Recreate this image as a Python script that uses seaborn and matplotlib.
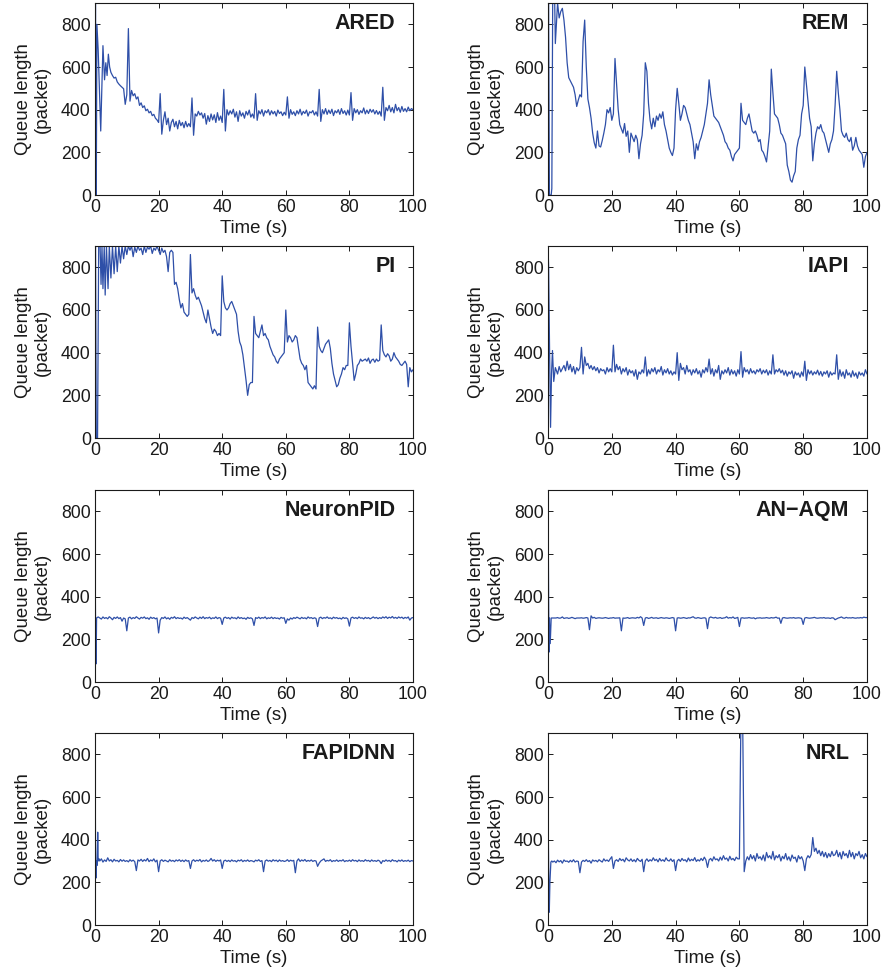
import numpy as np
import matplotlib
matplotlib.use("Agg")
import matplotlib.pyplot as plt
import seaborn as sns

# ---------------- data ----------------
titles = ["ARED", "REM", "PI", "IAPI", "NeuronPID", "AN\u2212AQM", "FAPIDNN", "NRL"]
x_ticks = [0, 20, 40, 60, 80, 100]
y_ticks = [0, 200, 400, 600, 800]

# ARED
ared_t0 = [0, 0.15, 0.3, 0.4, 0.6, 1.0, 1.8, 2.5, 3.0, 3.4, 3.8, 4.2, 4.6]
ared_q0 = [0, 1000, 0, 0, 800, 680, 300, 700, 540, 620, 560, 660, 600]
ared_start = 5.0
ared_q = [
    575, 560, 548, 552, 530, 520, 512, 505, 498, 425,
    470, 780, 440, 490, 465, 475, 450, 460, 420, 432, 410, 418, 395, 402, 385, 392, 372, 378, 360, 352,
    340, 475, 285, 350, 390, 330, 360, 300, 340, 355, 320, 345, 310, 350, 325, 340, 315, 345, 320, 335,
    320, 455, 280, 380, 370, 392, 375, 385, 360, 382, 332, 372, 345, 380, 352, 376, 340, 386, 350, 370,
    340, 495, 300, 400, 375, 395, 380, 402, 365, 390, 345, 395, 370, 385, 360, 392, 375, 398, 365, 380,
    360, 475, 350, 395, 380, 400, 370, 395, 385, 400, 375, 395, 380, 392, 370, 398, 382, 390, 372, 388,
    375, 460, 360, 400, 378, 390, 372, 395, 380, 402, 375, 392, 382, 398, 370, 390, 385, 396, 375, 390,
    370, 495, 345, 400, 380, 405, 378, 398, 382, 402, 372, 395, 385, 400, 378, 405, 382, 395, 375, 398,
    375, 480, 350, 405, 385, 400, 378, 395, 385, 408, 380, 398, 382, 402, 388, 400, 380, 396, 378, 392,
    370, 505, 350, 410, 395, 420, 390, 410, 385, 425, 395, 410, 388, 415, 392, 405, 390, 412, 395, 405,
    400,
]

# REM
rem_t0 = [0, 0.15, 0.45, 1.0, 1.2, 1.5, 2.0, 2.3, 2.7, 3.0, 3.5, 4.0, 4.5]
rem_q0 = [0, 1000, 0, 0, 30, 1000, 1000, 710, 820, 900, 830, 860, 875]
rem_start = 5.0
rem_q = [
    820, 740, 620, 550, 535, 520, 505, 470, 415, 445,
    470, 460, 720, 820, 600, 450, 410, 360, 290, 245, 220, 300, 230, 225, 255, 290, 330, 400, 385, 410,
    350, 380, 640, 520, 400, 330, 310, 290, 335, 275, 300, 200, 290, 270, 250, 280, 260, 170, 240, 280,
    380, 620, 580, 430, 350, 310, 360, 320, 370, 350, 380, 360, 390, 330, 300, 260, 220, 200, 185, 220,
    400, 500, 430, 350, 380, 420, 410, 380, 350, 330, 290, 250, 170, 240, 210, 250, 270, 300, 330, 380,
    430, 540, 470, 420, 370, 360, 350, 340, 320, 300, 280, 250, 240, 220, 210, 180, 160, 190, 200, 210,
    220, 430, 350, 340, 330, 360, 380, 340, 300, 290, 300, 280, 250, 260, 210, 200, 180, 155, 230, 300,
    590, 480, 380, 370, 360, 330, 290, 280, 260, 240, 140, 110, 70, 60, 90, 110, 220, 260, 280, 380,
    420, 600, 520, 440, 360, 320, 160, 240, 290, 320, 310, 330, 300, 290, 260, 230, 200, 240, 260, 300,
    420, 580, 480, 400, 300, 280, 270, 290, 260, 250, 270, 210, 230, 270, 230, 210, 200, 190, 130, 180,
    200,
]

# PI
pi_t0 = [0, 0.15, 0.4, 0.8, 1.2, 1.6, 1.9, 2.2, 2.5, 2.9, 3.2, 3.6, 4.1, 4.5]
pi_q0 = [0, 1000, 0, 0, 1000, 900, 720, 900, 700, 900, 670, 900, 700, 900]
pi_start = 5.0
pi_q = [
    750, 900, 770, 900, 780, 900, 820, 900, 840, 900,
    860, 900, 880, 900, 850, 895, 870, 900, 880, 890, 860, 900, 870, 895, 885, 900, 865, 890, 880, 900,
    880, 860, 890, 870, 880, 850, 780, 870, 880, 870, 720, 730, 700, 650, 610, 630, 590, 580, 570, 580,
    860, 680, 700, 670, 650, 660, 640, 620, 590, 560, 540, 600, 560, 520, 490, 510, 500, 480, 490, 480,
    760, 640, 610, 600, 610, 630, 640, 620, 600, 580, 500, 450, 430, 390, 330, 270, 200, 250, 260, 260,
    570, 490, 480, 470, 500, 530, 480, 490, 470, 460, 430, 410, 390, 380, 360, 350, 370, 380, 390, 400,
    600, 450, 480, 470, 450, 460, 480, 470, 420, 370, 350, 340, 320, 340, 260, 250, 240, 230, 245, 230,
    520, 430, 410, 400, 420, 440, 450, 460, 420, 350, 300, 270, 240, 250, 280, 300, 330, 320, 340, 340,
    540, 430, 350, 270, 300, 340, 350, 370, 360, 365, 370, 360, 375, 350, 365, 370, 355, 370, 360, 365,
    530, 410, 390, 380, 395, 385, 360, 370, 400, 380, 370, 360, 345, 340, 350, 360, 345, 240, 330, 310,
    320,
]

# IAPI
iapi_t0 = [0, 0.2, 0.5, 0.8, 1.1, 1.4, 1.8, 2.3]
iapi_q0 = [900, 800, 400, 50, 300, 410, 265, 330]
iapi_start = 3.0
iapi_q = [
    300, 335, 310, 325, 340, 315, 360, 320, 345, 310, 335, 300, 330, 315,
    330, 425, 300, 380, 340, 350, 325, 340, 320, 335, 315, 330, 305, 325, 315, 320, 300, 330, 310, 325,
    310, 435, 310, 345, 320, 335, 300, 325, 310, 330, 295, 320, 305, 315, 290, 320, 275, 310, 300, 320,
    305, 380, 290, 320, 300, 325, 310, 330, 300, 320, 310, 335, 295, 320, 305, 325, 300, 315, 295, 310,
    300, 400, 270, 350, 320, 330, 300, 340, 310, 320, 295, 320, 305, 325, 300, 315, 285, 320, 305, 330,
    310, 370, 300, 325, 290, 320, 305, 340, 275, 315, 300, 320, 305, 330, 295, 320, 300, 315, 290, 320,
    300, 405, 285, 330, 310, 320, 300, 325, 305, 315, 300, 320, 310, 325, 300, 318, 305, 320, 295, 315,
    300, 390, 300, 320, 310, 325, 305, 318, 295, 315, 290, 310, 300, 315, 280, 310, 295, 305, 285, 310,
    290, 360, 270, 320, 300, 315, 295, 310, 300, 318, 295, 312, 290, 310, 300, 315, 285, 310, 295, 305,
    300, 390, 275, 320, 290, 310, 280, 320, 295, 305, 285, 315, 290, 305, 280, 310, 295, 305, 290, 320,
    300,
]

# NeuronPID
npid_t0 = [0, 0.1, 0.2, 0.35, 0.5, 1.0]
npid_q0 = [0, 430, 200, 85, 300, 305]
npid_start = 1.5
npid_q = [
    300, 295, 305, 298, 302, 296, 306, 300, 292, 303, 298, 305, 297, 302, 285, 300, 296,
    240, 300, 304, 296, 302, 298, 306, 300, 295, 303, 299, 305, 297, 301, 294, 304, 298, 302, 296, 300,
    230, 290, 302, 298, 305, 296, 301, 294, 303, 299, 306, 297, 302, 298, 300, 295, 304, 298, 302, 296,
    290, 302, 298, 305, 300, 296, 304, 298, 306, 297, 302, 299, 304, 296, 301, 298, 305, 297, 302, 299,
    270, 300, 304, 298, 302, 295, 304, 299, 301, 296, 305, 298, 302, 297, 300, 294, 303, 298, 301, 296,
    265, 302, 298, 304, 297, 302, 299, 305, 296, 301, 298, 304, 297, 302, 298, 300, 295, 303, 299, 301,
    275, 296, 290, 300, 295, 302, 298, 304, 300, 296, 303, 298, 301, 296, 305, 299, 302, 297, 301, 298,
    260, 300, 304, 297, 302, 299, 305, 298, 301, 296, 304, 299, 302, 297, 300, 295, 303, 298, 301, 296,
    262, 300, 304, 298, 302, 297, 305, 299, 301, 296, 303, 298, 302, 296, 300, 305, 299, 303, 297, 302,
    298, 305, 300, 306, 298, 304, 300, 307, 299, 303, 298, 305, 300, 304, 297, 303, 299, 305, 290, 300,
    302,
]

# AN-AQM
anaqm_t0 = [0, 0.3, 0.45, 0.7, 1.0, 1.5]
anaqm_q0 = [880, 140, 300, 180, 300, 300]
anaqm_start = 2.0
anaqm_q = [
    300, 300, 302, 299, 300, 305, 298, 300, 301, 298, 300, 303, 300, 297, 300, 300,
    300, 301, 299, 300, 302, 300, 245, 310, 300, 303, 298, 300, 301, 300, 299, 300, 302, 300, 298, 300,
    300, 302, 299, 300, 300, 301, 240, 300, 299, 300, 302, 298, 300, 301, 300, 299, 303, 300, 306, 300,
    265, 300, 302, 298, 300, 303, 299, 300, 301, 298, 300, 302, 300, 299, 301, 300, 298, 300, 302, 300,
    240, 300, 301, 299, 300, 302, 300, 298, 301, 300, 303, 306, 300, 299, 302, 300, 298, 300, 301, 299,
    250, 300, 305, 302, 300, 303, 299, 300, 302, 298, 300, 301, 306, 299, 302, 300, 305, 298, 300, 303,
    260, 300, 301, 299, 300, 300, 302, 300, 299, 301, 296, 300, 300, 301, 299, 300, 300, 302, 300, 299,
    302, 300, 301, 304, 299, 300, 275, 300, 302, 300, 299, 300, 301, 300, 302, 299, 300, 301, 300, 298,
    270, 300, 302, 300, 299, 300, 301, 303, 300, 299, 300, 301, 300, 302, 299, 300, 300, 298, 301, 300,
    292, 296, 300, 302, 305, 300, 299, 303, 300, 301, 300, 302, 300, 299, 301, 300, 302, 300, 304, 302,
    302,
]

# FAPIDNN
fap_t0 = [0, 0.15, 0.3, 0.5, 0.7, 0.85, 1.0, 1.3]
fap_q0 = [880, 400, 220, 300, 280, 435, 300, 310]
fap_start = 1.5
fap_q = [
    300, 310, 295, 305, 298, 315, 300, 306, 296, 308, 300, 303, 296, 307, 299, 305, 298,
    302, 296, 306, 299, 304, 297, 255, 305, 300, 308, 298, 306, 300, 312, 297, 305, 300, 310, 296, 304,
    250, 300, 306, 298, 304, 300, 296, 306, 299, 303, 297, 305, 300, 306, 298, 304, 297, 305, 299, 302,
    265, 300, 306, 298, 304, 300, 307, 296, 303, 299, 305, 298, 302, 312, 300, 306, 298, 304, 300, 305,
    265, 300, 304, 298, 303, 297, 305, 299, 302, 296, 304, 300, 306, 297, 303, 299, 305, 298, 302, 300,
    296, 304, 300, 306, 298, 302, 250, 300, 305, 299, 303, 297, 306, 300, 304, 297, 305, 299, 302, 298,
    300, 306, 298, 304, 300, 303, 245, 300, 310, 298, 305, 300, 307, 298, 303, 299, 305, 298, 302, 300,
    275, 290, 300, 305, 310, 298, 303, 300, 306, 297, 302, 299, 305, 298, 303, 300, 306, 297, 302, 299,
    304, 298, 306, 300, 303, 297, 305, 299, 302, 298, 306, 300, 303, 297, 305, 299, 302, 298, 304, 300,
    288, 302, 298, 305, 299, 303, 297, 306, 300, 302, 296, 304, 299, 305, 298, 302, 299, 304, 297, 302,
    300,
]

# NRL
nrl_t0 = [0, 0.1, 0.25, 0.4, 0.6, 0.9, 1.2]
nrl_q0 = [0, 420, 200, 60, 200, 295, 300]
nrl_start = 1.5
nrl_q = [
    295, 300, 292, 304, 296, 302, 290, 305, 298, 300, 294, 303, 296, 306, 295, 300, 298,
    245, 295, 303, 298, 306, 297, 302, 290, 305, 299, 303, 296, 306, 300, 295, 310, 300, 305, 298, 310,
    320, 265, 300, 306, 298, 312, 302, 308, 296, 315, 305, 300, 310, 298, 306, 296, 312, 303, 298, 308,
    250, 300, 310, 298, 306, 300, 315, 302, 308, 296, 312, 300, 306, 298, 315, 303, 300, 310, 298, 306,
    255, 300, 308, 298, 312, 302, 306, 296, 314, 300, 308, 302, 316, 298, 306, 300, 312, 302, 318, 305,
    270, 305, 312, 300, 320, 306, 310, 300, 318, 304, 325, 308, 314, 300, 322, 306, 312, 302, 318, 310,
    310, 1000, 1000, 250, 300, 320, 305, 330, 310, 325, 300, 335, 312, 320, 305, 328, 300, 340, 315, 325,
    310, 345, 305, 325, 315, 330, 300, 322, 310, 335, 305, 320, 300, 328, 312, 318, 295, 325, 310, 320,
    300, 255, 310, 325, 315, 330, 410, 345, 360, 335, 350, 325, 345, 320, 340, 315, 335, 320, 345, 325,
    330, 350, 320, 340, 310, 345, 325, 335, 315, 350, 320, 340, 310, 335, 325, 345, 315, 330, 310, 335,
    320,
]

series = [
    (ared_t0, ared_q0, ared_start, ared_q),
    (rem_t0, rem_q0, rem_start, rem_q),
    (pi_t0, pi_q0, pi_start, pi_q),
    (iapi_t0, iapi_q0, iapi_start, iapi_q),
    (npid_t0, npid_q0, npid_start, npid_q),
    (anaqm_t0, anaqm_q0, anaqm_start, anaqm_q),
    (fap_t0, fap_q0, fap_start, fap_q),
    (nrl_t0, nrl_q0, nrl_start, nrl_q),
]

# ---------------- style ----------------
sns.set_theme(style="white")
plt.rcParams.update({
    "font.family": ["Liberation Sans", "DejaVu Sans"],
    "xtick.direction": "in",
    "ytick.direction": "in",
    "xtick.bottom": True,
    "ytick.left": True,
    "xtick.top": True,
    "ytick.right": True,
    "xtick.major.size": 3.5,
    "ytick.major.size": 3.5,
    "xtick.major.width": 0.7,
    "ytick.major.width": 0.7,
    "axes.edgecolor": "#1a1a1a",
    "axes.linewidth": 0.8,
    "xtick.color": "#1a1a1a",
    "ytick.color": "#1a1a1a",
    "text.color": "#1a1a1a",
    "axes.labelcolor": "#1a1a1a",
})

W, H = 887, 980
fig = plt.figure(figsize=(W / 100, H / 100), dpi=100)

col_left = [95, 548]
col_width = [318, 319]
row_top = [3, 246, 490, 733]
ax_h = 192
line_color = "#2e4fa8"

for i, (t0, q0, start, qb) in enumerate(series):
    r, c = divmod(i, 2)
    left = col_left[c] / W
    bottom = 1 - (row_top[r] + ax_h) / H
    ax = fig.add_axes([left, bottom, col_width[c] / W, ax_h / H])
    tb = start + 0.5 * np.arange(len(qb))
    t = np.concatenate([np.asarray(t0, float), tb])
    q = np.concatenate([np.asarray(q0, float), np.asarray(qb, float)])
    sns.lineplot(x=t, y=q, ax=ax, color=line_color, linewidth=0.9,
                 estimator=None, sort=False)
    ax.set_xlim(0, 100)
    ax.set_ylim(0, 900)
    ax.set_xticks(x_ticks)
    ax.set_yticks(y_ticks)
    ax.tick_params(which="both", direction="in", bottom=True, left=True,
                   top=True, right=True, length=3.5, width=0.7,
                   labelsize=12.7, pad=3)
    ax.set_xlabel("Time (s)", fontsize=13.4, labelpad=3)
    ax.set_ylabel("Queue length\n(packet)", fontsize=13.4, labelpad=7,
                  linespacing=1.15)
    for s in ax.spines.values():
        s.set_visible(True)
    ax.text(0.945, 0.95, titles[i], transform=ax.transAxes, ha="right",
            va="top", fontsize=15.5, fontweight="bold", color="#1a1a1a")

fig.savefig("out.png", dpi=100)
